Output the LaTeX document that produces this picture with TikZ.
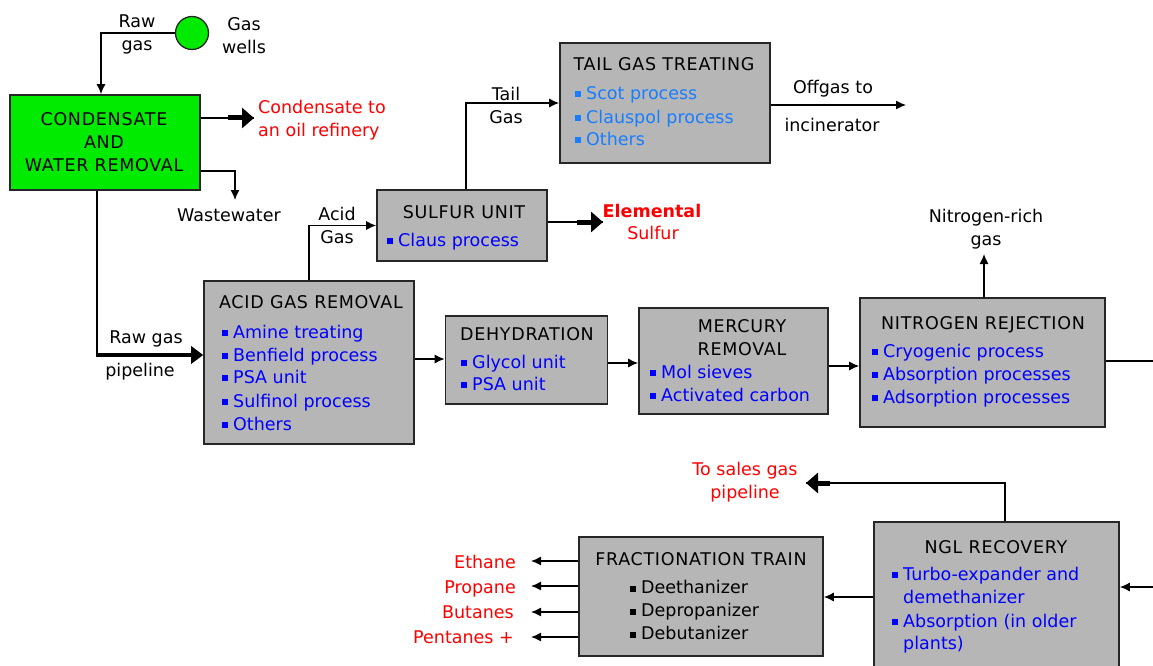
\documentclass[tikz,border=0pt]{standalone}
\usepackage{fontspec}
\setmainfont{DejaVu Sans}
\newfontfamily\ttlfont[LetterSpace=4]{DejaVu Sans}
\usetikzlibrary{arrows.meta}
\definecolor{boxgray}{RGB}{182,182,182}
\definecolor{itemblue}{RGB}{0,0,255}
\definecolor{lightblue}{RGB}{25,125,255}
\definecolor{wellgreen}{RGB}{0,235,0}
\definecolor{redtext}{RGB}{255,0,0}
\newcommand\bul{\rule[2pt]{6pt}{6pt}\hspace{5pt}}
\begin{document}
\begin{tikzpicture}[x=1pt,y=-1pt,
  box/.style={draw=black!85, line width=1.6pt, fill=boxgray, inner sep=0pt},
  txt/.style={font=\fontsize{17.5}{23}\selectfont, inner sep=0pt, text=black},
  ttl/.style={font=\ttlfont\fontsize{17.5}{23}\selectfont, inner sep=0pt, text=black, align=center},
  itm/.style={txt, text=itemblue, anchor=mid west, yshift=-3.5pt},
  ltm/.style={txt, text=lightblue, anchor=mid west, yshift=-3.5pt},
  btm/.style={txt, text=black, anchor=mid west, yshift=-4pt},
  redtxt/.style={txt, text=redtext},
  conn/.style={line width=1.3pt, -{Latex[length=10pt,width=9pt]}},
  thin/.style={line width=1.3pt},
  fat/.style={line width=5pt, -{Triangle[length=12pt,width=20pt]}},
]
\useasboundingbox (0,0) rectangle (1153,666);
\clip (0,0) rectangle (1153,666);

% ---------- boxes ----------
\node[circle, draw=black!85, line width=1.3pt, fill=wellgreen, minimum size=33pt, inner sep=0pt] (wells) at (192,33) {};
\node[box, fill=wellgreen, minimum width=190pt, minimum height=95pt] (cond) at (105,142.5) {};
\node[box, minimum width=210pt, minimum height=163pt] (acid) at (309,362.5) {};
\node[box, minimum width=170pt, minimum height=71pt] (sulfur) at (462,225.5) {};
\node[box, minimum width=210pt, minimum height=120pt] (tail) at (665,103) {};
\node[box, minimum width=162pt, minimum height=88pt] (dehyd) at (526.5,360) {};
\node[box, minimum width=189pt, minimum height=106pt] (merc) at (733.5,361) {};
\node[box, minimum width=245pt, minimum height=129pt] (nitro) at (982.5,362.5) {};
\node[box, minimum width=245pt, minimum height=160pt] (ngl) at (996.5,602) {};
\node[box, minimum width=244pt, minimum height=119pt] (frac) at (701,596.5) {};

% ---------- texts in boxes ----------
\node[ttl] (condt) at (104,142) {CONDENSATE\\AND\\WATER REMOVAL};
\node[ttl] (acidt) at (311,302) {ACID GAS REMOVAL};
\node[itm] (a1) at (222,332) {\bul Amine treating};
\node[itm] (a2) at (222,355) {\bul Benfield process};
\node[itm] (a3) at (222,377) {\bul PSA unit};
\node[itm] (a4) at (222,401) {\bul Sulfinol process};
\node[itm] (a5) at (222,424) {\bul Others};

\node[ttl] (sulft) at (464,212) {SULFUR UNIT};
\node[itm] (s1) at (387,240) {\bul Claus process};

\node[ttl] (tailt) at (664,64) {TAIL GAS TREATING};
\node[ltm] (t1) at (575,93) {\bul Scot process};
\node[ltm] (t2) at (575,117) {\bul Clauspol process};
\node[ltm] (t3) at (575,139) {\bul Others};

\node[ttl] (dehydt) at (527,334) {DEHYDRATION};
\node[itm] (d1) at (461,362) {\bul Glycol unit};
\node[itm] (d2) at (461,384) {\bul PSA unit};

\node[ttl] (merct) at (742,338) {MERCURY\\REMOVAL};
\node[itm] (m1) at (650,372) {\bul Mol sieves};
\node[itm] (m2) at (650,395) {\bul Activated carbon};

\node[ttl] (nitrot) at (983,325) {NITROGEN REJECTION};
\node[itm] (n1) at (872,351) {\bul Cryogenic process};
\node[itm] (n2) at (872,374) {\bul Absorption processes};
\node[itm] (n3) at (872,397) {\bul Adsorption processes};

\node[ttl] (nglt) at (996,547) {NGL RECOVERY};
\node[itm] (g1) at (892,574) {\bul Turbo-expander and};
\node[itm] (g2) at (903,597) {demethanizer};
\node[itm] (g3) at (892,621) {\bul Absorption (in older};
\node[itm] (g4) at (903,643) {plants)};

\node[ttl] (fract) at (701,559) {FRACTIONATION TRAIN};
\node[btm] (f1) at (630,587) {\bul Deethanizer};
\node[btm] (f2) at (630,610) {\bul Depropanizer};
\node[btm] (f3) at (630,633) {\bul Debutanizer};

% ---------- free labels ----------
\node[txt, align=center] (lraw) at (137,34) {Raw\\gas};
\node[txt, align=center] (lwells) at (244,36) {Gas\\wells};
\node[redtxt, align=left, anchor=west] (lcondo) at (258,120) {Condensate to\\an oil refinery};
\node[txt] (lww) at (229,215) {Wastewater};
\node[txt] (lrg1) at (146,339) {Raw gas};
\node[txt] (lrg2) at (140,372) {pipeline};
\node[txt, align=center] (lacid) at (337,225) {Acid\\Gas};
\node[txt, align=center] (ltail) at (506,105) {Tail\\Gas};
\node[txt] (loff1) at (833,89) {Offgas to};
\node[txt] (loff2) at (832,125) {incinerator};
\node[redtxt, font=\bfseries\fontsize{17.5}{23}\selectfont] (lelem1) at (652,211) {Elemental};
\node[redtxt] (lelem2) at (653,233) {Sulfur};
\node[txt, align=center] (lnrich) at (986,229) {Nitrogen-rich\\gas};
\node[redtxt, align=center] (lsales) at (745,482) {To sales gas\\pipeline};
\node[redtxt, anchor=mid east, yshift=-4pt] (le1) at (516,562) {Ethane};
\node[redtxt, anchor=mid east, yshift=-4pt] (le2) at (516,587) {Propane};
\node[redtxt, anchor=mid east, yshift=-4pt] (le3) at (514,612) {Butanes};
\node[redtxt, anchor=mid east, yshift=-4pt] (le4) at (514,637) {Pentanes +};

% ---------- free ends ----------
\coordinate (condout) at (254,118);
\coordinate (wwend) at (235,200);
\coordinate (offend) at (906,105);
\coordinate (elemend) at (603,222);
\coordinate (nup) at (984,254);
\coordinate (nright) at (1160,361);
\coordinate (salesend) at (806,483);
\coordinate (nglin) at (1160,587);
\coordinate (pipecorner) at (97,355);
\coordinate (o1) at (531,561);
\coordinate (o2) at (531,586);
\coordinate (o3) at (531,612);
\coordinate (o4) at (531,637);

% ---------- connectors ----------
\draw[conn] (wells.west) -| ([xshift=-4pt]cond.north);
\draw[thin] (cond.east |- condout) -- (condout);
\draw[fat] ([xshift=-26pt]condout) -- (condout);
\draw[conn] (cond.east |- 0,171) -| (wwend);
\draw[line width=2pt] (cond.south -| pipecorner) -- (pipecorner);
\draw[line width=4.5pt, -{Triangle[length=12pt,width=17pt]}] ([xshift=-1pt]pipecorner) -- (acid.west |- pipecorner);
\draw[conn] (acid.north) |- (sulfur.west);
\draw[conn] ([xshift=4pt]sulfur.north) |- (tail.west);
\draw[conn] (tail.east |- offend) -- (offend);
\draw[thin] (sulfur.east |- elemend) -- (elemend);
\draw[fat] ([xshift=-26pt]elemend) -- (elemend);
\draw[conn] (acid.east |- 0,359) -- (dehyd.west |- 0,359);
\draw[conn] (dehyd.east |- 0,363) -- (merc.west |- 0,363);
\draw[conn] (merc.east |- 0,366) -- (nitro.west |- 0,366);
\draw[thin] (nitro.east |- nright) -- (nright);
\draw[conn] ([xshift=1.5pt]nitro.north) -- (nup);
\draw[thin] ([xshift=8.5pt]ngl.north) |- (salesend);
\draw[fat] ([xshift=24pt]salesend) -- (salesend);
\draw[conn] (nglin) -- (ngl.east |- nglin);
\draw[conn] (ngl.west |- 0,597) -- (frac.east |- 0,597);
\draw[conn] (frac.west |- o1) -- (o1);
\draw[conn] (frac.west |- o2) -- (o2);
\draw[conn] (frac.west |- o3) -- (o3);
\draw[conn] (frac.west |- o4) -- (o4);
\end{tikzpicture}
\end{document}
